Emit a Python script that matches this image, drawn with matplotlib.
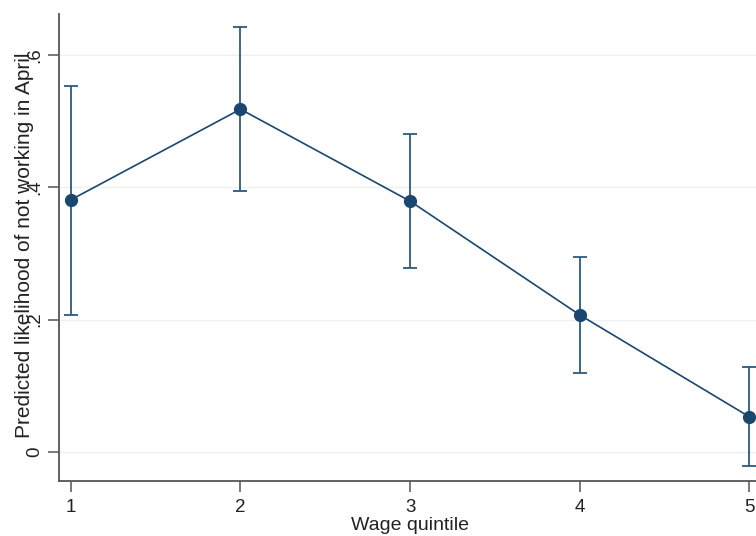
import matplotlib
matplotlib.use("Agg")
import matplotlib.pyplot as plt
import numpy as np

# Predicted margins by wage quintile
quintiles = [1, 2, 3, 4, 5]
predicted = [0.381, 0.518, 0.379, 0.207, 0.053]
ci_low = [0.207, 0.394, 0.278, 0.119, -0.021]
ci_high = [0.553, 0.642, 0.480, 0.295, 0.128]

y_ticks = [0, 0.2, 0.4, 0.6]
y_tick_labels = ["0", ".2", ".4", ".6"]

navy = "#1a476f"

plt.rcParams["font.family"] = ["Liberation Sans", "DejaVu Sans"]

fig = plt.figure(figsize=(7.56, 5.36), dpi=100)
ax = fig.add_axes([0.078, 0.1026, 0.929, 0.8714])

pred = np.array(predicted)
yerr = [pred - np.array(ci_low), np.array(ci_high) - pred]
ax.errorbar(quintiles, predicted, yerr=yerr, color=navy, ecolor="#2c5a80",
            elinewidth=1.3, capsize=5, capthick=1.3, linewidth=1.2,
            marker="o", markersize=8.5, zorder=3)

ax.set_xlim(0.93, 5.07)
ax.set_ylim(-0.044, 0.662)
ax.set_xticks(quintiles)
ax.set_yticks(y_ticks)
ax.set_yticklabels(y_tick_labels, rotation=90, va="center")

for y in y_ticks:
    ax.axhline(y, color="#eaf2f3", linewidth=1.0, zorder=0)

for s in ["top", "right"]:
    ax.spines[s].set_visible(False)
for s in ["left", "bottom"]:
    ax.spines[s].set_color("#555555")
    ax.spines[s].set_linewidth(1.3)

ax.tick_params(axis="both", direction="out", length=8, width=1.1,
               color="#555555", labelsize=13.5, labelcolor="#222222")
ax.tick_params(axis="y", pad=3)
ax.tick_params(axis="x", pad=5)

ax.set_ylabel("Predicted likelihood of not working in April", fontsize=15, color="#222222")
ax.yaxis.set_label_coords(-0.036, 0.505)
ax.set_xlabel("Wage quintile", fontsize=14, color="#222222")
ax.xaxis.set_label_coords(0.5, -0.077)

fig.savefig("out.png", dpi=100)
